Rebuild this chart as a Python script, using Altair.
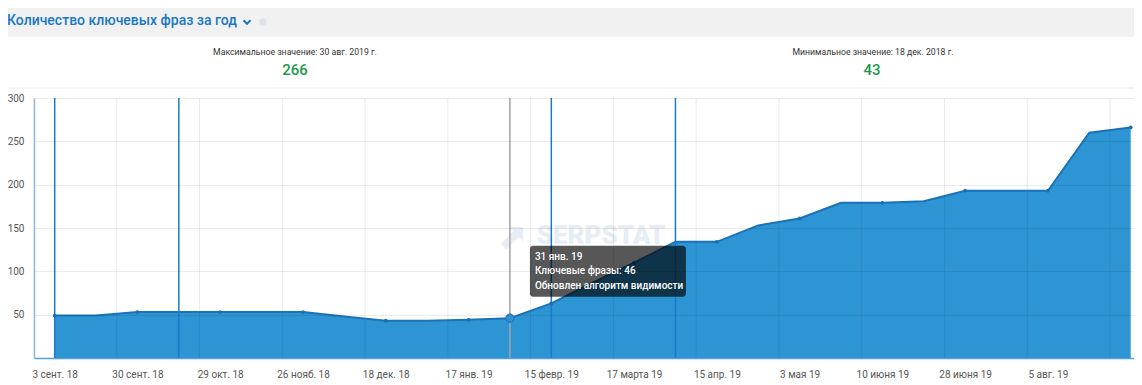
import json
import altair as alt
import pandas as pd

# ---------------- data ----------------
dates = ["3 сент. 18", "17 сент. 18", "30 сент. 18", "15 окт. 18", "29 окт. 18",
         "12 нояб. 18", "26 нояб. 18", "4 дек. 18", "18 дек. 18", "2 янв. 19",
         "17 янв. 19", "31 янв. 19", "15 февр. 19", "1 марта 19", "17 марта 19",
         "31 марта 19", "15 апр. 19", "24 апр. 19", "3 мая 19", "22 мая 19",
         "10 июня 19", "19 июня 19", "28 июня 19", "17 июля 19", "5 авг. 19",
         "18 авг. 19", "30 авг. 19"]
values = [49, 49, 53, 53, 53, 53, 53, 48, 43, 43, 44, 46, 63, 87, 110,
          134, 134, 153, 161, 179, 179, 181, 193, 193, 193, 260, 266]
update_dates = ["3 сент. 18", "15 окт. 18", "15 февр. 19", "31 марта 19"]
hover_date = "31 янв. 19"
y_ticks = [50, 100, 150, 200, 250, 300]
title_text = ["Количество ключевых фраз за год"]
max_caption = ["Максимальное значение: 30 авг. 2019 г."]
min_caption = ["Минимальное значение: 18 дек. 2018 г."]
tooltip_metric = "Ключевые фразы"
tooltip_event = "Обновлен алгоритм видимости"
watermark = ["SERPSTAT"]

FONT = "Roboto"
W, H = 1100, 260

idx = list(range(len(dates)))
df = pd.DataFrame({"idx": idx, "date": dates, "value": values})
df["dot"] = df["idx"] % 2 == 0
label_idx = [i for i in idx if i % 2 == 0 and i < len(dates) - 1]
grid_pos = pd.DataFrame({"idx": [i - 0.5 for i in range(0, len(dates) + 1, 2)]})
events = df[df["date"].isin(update_dates)]
hover = df[df["date"] == hover_date].copy()
hover["l1"] = hover["date"]
hover["l2"] = hover["value"].map(lambda v: f"{tooltip_metric}: {v}")
hover["l3"] = tooltip_event

xscale = alt.Scale(domain=[-0.5, len(dates) - 1 + 0.08], nice=False, zero=False)
yscale = alt.Scale(domain=[0, 300], nice=False)
label_expr = json.dumps(dates, ensure_ascii=False) + "[datum.value]"

X = alt.X("idx:Q", scale=xscale, title=None,
          axis=alt.Axis(values=label_idx, labelExpr=label_expr, title=None, grid=False,
                        ticks=False, domainColor="#5aa0d8", domainWidth=1.5,
                        labelFont=FONT, labelFontSize=10, labelColor="#555555",
                        labelPadding=11, labelOverlap=False, labelFlush=False,
                        labelBound=False))
Y = alt.Y("value:Q", scale=yscale, title=None,
          axis=alt.Axis(values=y_ticks, title=None, ticks=False, grid=True,
                        gridColor="#000000", gridOpacity=0.08, zindex=1,
                        domainColor="#8dbbe2", domainWidth=1.5,
                        labelFont=FONT, labelFontSize=10, labelColor="#555555",
                        labelPadding=10))
XP = alt.X("idx:Q", title=None)
YP = alt.Y("value:Q", title=None)

base = alt.Chart(df)

# decorations (header)
one = pd.DataFrame({"k": [0]})
band = alt.Chart(one).mark_rect(color="#f1f1f1").encode(
    x=alt.value(-26), x2=alt.value(W), y=alt.value(-90), y2=alt.value(-61))
sep = alt.Chart(one).mark_rule(color="#e9e9ee", strokeWidth=1).encode(
    x=alt.value(-26), x2=alt.value(W), y=alt.value(-10))
title = alt.Chart(pd.DataFrame({"t": title_text})).mark_text(
    align="left", baseline="middle", font=FONT, fontSize=14, fontWeight=500,
    color="#1b78c4").encode(text="t:N", x=alt.value(-27), y=alt.value(-77))
chev = alt.Chart(one).mark_point(
    shape="M-1,-0.5L0,0.5L1,-0.5", filled=False, stroke="#1b78c4",
    strokeWidth=2, size=50, opacity=1).encode(x=alt.value(213), y=alt.value(-76))
info = alt.Chart(one).mark_circle(color="#dde2e8", size=55, opacity=1).encode(
    x=alt.value(229), y=alt.value(-76))
maxcap = alt.Chart(pd.DataFrame({"t": max_caption})).mark_text(
    align="center", baseline="middle", font=FONT, fontSize=8.7, color="#333333"
).encode(text="t:N", x=alt.value(261), y=alt.value(-46))
mincap = alt.Chart(pd.DataFrame({"t": min_caption})).mark_text(
    align="center", baseline="middle", font=FONT, fontSize=8.7, color="#333333"
).encode(text="t:N", x=alt.value(839), y=alt.value(-46))
maxval = alt.Chart(pd.DataFrame({"t": [str(max(values))]})).mark_text(
    align="center", baseline="middle", font=FONT, fontSize=15, fontWeight=500,
    color="#1e9a4b").encode(text="t:N", x=alt.value(261), y=alt.value(-28))
minval = alt.Chart(pd.DataFrame({"t": [str(min(values))]})).mark_text(
    align="center", baseline="middle", font=FONT, fontSize=15, fontWeight=500,
    color="#1e9a4b").encode(text="t:N", x=alt.value(838), y=alt.value(-28))
wm = alt.Chart(pd.DataFrame({"t": watermark})).mark_text(
    align="center", baseline="middle", font=FONT, fontSize=26, fontWeight=900,
    color="#e6edf4").encode(text="t:N", x=alt.value(567), y=alt.value(138))
wm_logo = alt.Chart(one).mark_point(
    shape="M-1,0.7L0.1,-0.4L-0.3,-0.8L1,-0.8L1,0.5L0.6,0.1L-0.5,1.2Z",
    filled=True, color="#e6edf4", size=500, opacity=1).encode(
    x=alt.value(478), y=alt.value(138))

# data layers
area = base.mark_area(color="#2e95d4").encode(x=X, y=Y)
vgrid = alt.Chart(grid_pos).mark_rule(color="#000000", opacity=0.08, strokeWidth=1).encode(
    x=XP)
line = base.mark_line(color="#1a72b8", strokeWidth=2).encode(x=XP, y=YP)
ev = alt.Chart(events).mark_rule(color="#1b7bc8", strokeWidth=1.5).encode(x=XP)
hov = alt.Chart(hover).mark_rule(color="#a3a3a3", strokeWidth=1.5).encode(x=XP)
dots = base.transform_filter("datum.dot").mark_circle(
    color="#1a6fb3", size=14, opacity=1).encode(x=XP, y=YP)
hdot = alt.Chart(hover).mark_circle(
    color="#2f8fd0", size=70, opacity=1, stroke="#1a6fb3", strokeWidth=1).encode(
    x=XP, y=YP)
tipbox = alt.Chart(hover).mark_rect(
    color="#000000", opacity=0.66, width=156, height=51, xOffset=98, yOffset=-47,
    cornerRadius=3).encode(x=XP, y=YP)
tip_common = dict(align="left", baseline="middle", font=FONT, fontSize=10,
                  fontWeight=500, color="#ffffff", dx=25)
t1 = alt.Chart(hover).mark_text(dy=-61, **tip_common).encode(x=XP, y=YP, text="l1:N")
t2 = alt.Chart(hover).mark_text(dy=-47, **tip_common).encode(x=XP, y=YP, text="l2:N")
t3 = alt.Chart(hover).mark_text(dy=-32, **tip_common).encode(x=XP, y=YP, text="l3:N")

chart = alt.layer(
    band, sep, title, chev, info, maxcap, mincap, maxval, minval, wm, wm_logo,
    area, vgrid, line, ev, hov, dots, hdot, tipbox, t1, t2, t3
).properties(
    width=W, height=H,
    autosize=alt.AutoSizeParams(type="none"),
    padding={"left": 26, "top": 90, "right": 0, "bottom": 22},
    background="#ffffff",
).configure_view(stroke=None)

chart.save("out.html", embed_options={"renderer": "svg", "actions": False})
